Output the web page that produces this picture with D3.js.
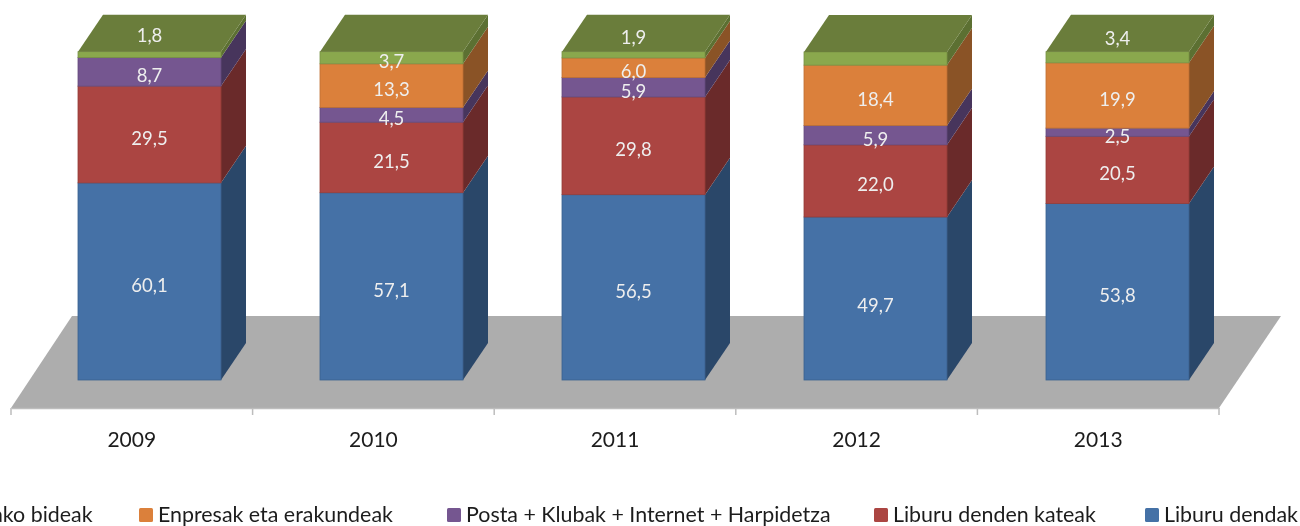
<!DOCTYPE html>
<html>
<head>
<meta charset="utf-8">
<script src="https://cdn.jsdelivr.net/npm/d3@7"></script>
<style>
  html, body { margin: 0; padding: 0; background: #fff; overflow: hidden; }
  text { font-family: Lato, "Open Sans", sans-serif; }
</style>
</head>
<body>
<div id="chart"></div>
<script>
const years = ["2009", "2010", "2011", "2012", "2013"];

// stack order, bottom to top
const seriesNames = ["Liburu dendak", "Liburu denden kateak", "Posta + Klubak + Internet + Harpidetza", "Enpresak eta erakundeak", "Bestelako bideak"];
const liburuDendak = [60.1, 57.1, 56.5, 49.7, 53.8];
const kateak = [29.5, 21.5, 29.8, 22.0, 20.5];
const posta = [8.7, 4.5, 5.9, 5.9, 2.5];
const enpresak = [0, 13.3, 6.0, 18.4, 19.9];
const bestelako = [1.8, 3.7, 1.9, 4.0, 3.4];

const frontColors = ["#4471a6", "#ab4542", "#745690", "#db803b", "#8aa84e"];
const sideColors = ["#2b4669", "#6b2a2a", "#47345c", "#8a5226", "#5c7031"];
const topColor = "#6a7d3a";

const svgWidth = 1300;
const svgHeight = 526;

const depth = { x: 25, y: -37 };
const floorDepth = { x: 62, y: -92 };
const barWidth = 143;
const floorY = 408;

const svg = d3
  .select("#chart")
  .append("svg")
  .attr("width", svgWidth)
  .attr("height", svgHeight);

const defs = svg.append("defs");
defs.append("filter")
  .attr("id", "soft")
  .append("feGaussianBlur")
  .attr("stdDeviation", 0.6);

const chartGroup = svg.append("g").attr("filter", "url(#soft)");

const xScale = d3.scaleBand().domain(years).range([11, 1219]);
// bars sit back on the floor, so they get their own slightly wider band
const barScale = d3.scaleBand().domain(years).range([78, 1288]);
const yScale = d3.scaleLinear().domain([0, 100]).range([380, 52]);

const table = years.map((y, i) => ({
  year: y,
  s0: liburuDendak[i],
  s1: kateak[i],
  s2: posta[i],
  s3: enpresak[i],
  s4: bestelako[i]
}));
const stacked = d3.stack().keys(["s0", "s1", "s2", "s3", "s4"])(table);

const poly = pts => pts.map(p => p.join(",")).join(" ");

// floor
const [x0, x1] = xScale.range();
chartGroup.append("polygon")
  .attr("points", poly([
    [x0, floorY],
    [x1, floorY],
    [x1 + floorDepth.x, floorY + floorDepth.y],
    [x0 + floorDepth.x - 1, floorY + floorDepth.y]
  ]))
  .attr("fill", "#adadad");

// axis
const xAxis = chartGroup.append("g")
  .attr("transform", `translate(0, ${floorY})`)
  .call(d3.axisBottom(xScale).tickSize(0).tickPadding(24));
xAxis.select(".domain").attr("stroke", "#bdbdbd").attr("stroke-width", 1.5);
xAxis.selectAll("text")
  .attr("font-size", 21)
  .attr("fill", "#1c1c1c")
  .style("font-family", "Lato, sans-serif");

const tickEdges = years.map(y => xScale(y)).concat([x1]);
chartGroup.selectAll(".edge-tick")
  .data(tickEdges)
  .enter()
  .append("line")
  .attr("class", "edge-tick")
  .attr("x1", d => d)
  .attr("x2", d => d)
  .attr("y1", floorY)
  .attr("y2", floorY + 7)
  .attr("stroke", "#bdbdbd")
  .attr("stroke-width", 1.5);

const barLeft = d => barScale(d.data.year);

stacked.forEach(function(layer, k) {
  const g = chartGroup.append("g");

  // right side of the segment
  g.selectAll("polygon")
    .data(layer.filter(d => d[1] > d[0]))
    .enter()
    .append("polygon")
    .attr("points", d => {
      const r = barLeft(d) + barWidth;
      return poly([
        [r, yScale(d[0])],
        [r + depth.x, yScale(d[0]) + depth.y],
        [r + depth.x, yScale(d[1]) + depth.y],
        [r, yScale(d[1])]
      ]);
    })
    .attr("fill", sideColors[k]);

  // front of the segment
  g.selectAll("rect")
    .data(layer.filter(d => d[1] > d[0]))
    .enter()
    .append("rect")
    .attr("x", barLeft)
    .attr("y", d => yScale(d[1]))
    .attr("width", barWidth)
    .attr("height", d => yScale(d[0]) - yScale(d[1]))
    .attr("fill", frontColors[k])
    .attr("stroke", d3.color(frontColors[k]).darker(0.4))
    .attr("stroke-width", 0.8);
});

// top face
chartGroup.selectAll(".top-face")
  .data(stacked[stacked.length - 1])
  .enter()
  .append("polygon")
  .attr("class", "top-face")
  .attr("points", d => {
    const l = barLeft(d);
    const t = yScale(d[1]);
    return poly([
      [l, t],
      [l + depth.x, t + depth.y],
      [l + barWidth + depth.x, t + depth.y],
      [l + barWidth, t]
    ]);
  })
  .attr("fill", topColor);

// data labels; the chart's author dragged a few of them off their segment
const fmt = v => v.toFixed(1).replace(".", ",");
const labelNudge = { "s4-2009": -23, "s4-2011": -21, "s4-2013": -22.5, "s0-2012": 3 };
const hiddenLabels = ["s4-2012"];

stacked.forEach(function(layer) {
  chartGroup.append("g")
    .selectAll("text")
    .data(layer.filter(d => d[1] > d[0] && !hiddenLabels.includes(layer.key + "-" + d.data.year)))
    .enter()
    .append("text")
    .attr("x", d => barLeft(d) + barWidth / 2)
    .attr("y", d => (yScale(d[0]) + yScale(d[1])) / 2 + 4 + (labelNudge[layer.key + "-" + d.data.year] || 0))
    .attr("dy", "0.35em")
    .attr("text-anchor", "middle")
    .attr("font-size", 18.5)
    .attr("fill", "#eeeeee")
    .text(d => fmt(d[1] - d[0]));
});

// legend, laid out right to left; the first entry runs off the left edge
const legendSwatchX = [1145, 874, 447, 139, -85];
const legendGroup = chartGroup.append("g");
seriesNames.forEach(function(name, i) {
  legendGroup.append("rect")
    .attr("x", legendSwatchX[i])
    .attr("y", 508)
    .attr("width", 14)
    .attr("height", 14)
    .attr("rx", 1.5)
    .attr("fill", frontColors[i]);
  legendGroup.append("text")
    .attr("x", legendSwatchX[i] + 19)
    .attr("y", 515)
    .attr("dy", "0.35em")
    .attr("font-size", 21.4)
    .attr("fill", "#1c1c1c")
    .text(name);
});
</script>
</body>
</html>
